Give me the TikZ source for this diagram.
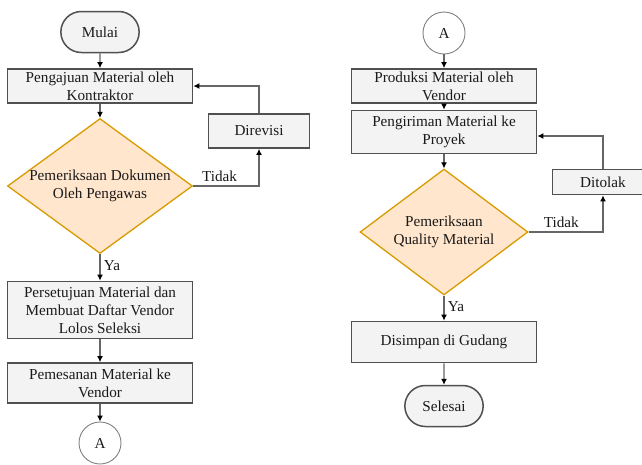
\documentclass[tikz,border=0pt]{standalone}
\usepackage{fontspec}
\setmainfont{Liberation Serif}
\usetikzlibrary{shapes.geometric, shapes.misc, arrows.meta}
\definecolor{boxfill}{HTML}{F3F3F3}
\definecolor{boxline}{HTML}{505050}
\definecolor{decfill}{HTML}{FFE6CC}
\definecolor{decline}{HTML}{D79B00}
\definecolor{wire}{HTML}{666666}
\definecolor{ink}{HTML}{1A1A1A}
\tikzset{
  ->,
  >={Latex[length=6pt,width=6pt,color=black]},
  every node/.style={text=ink, font=\fontsize{15.2}{18}\selectfont},
  process/.style={rectangle, draw=boxline, fill=boxfill, line width=1.8pt,
    minimum width=185pt, align=center, inner sep=0pt},
  terminal/.style={rounded rectangle, draw=boxline, fill=boxfill, line width=1.5pt,
    minimum width=85pt, minimum height=41pt},
  decision/.style={diamond, draw=decline, fill=decfill, line width=1.3pt,
    align=center, inner sep=-4pt},
  connector/.style={circle, draw=gray, fill=white, line width=0.9pt,
    minimum size=42pt, inner sep=0pt},
  flow/.style={draw=wire, line width=1.1pt},
}

\begin{document}
\begin{tikzpicture}[x=1pt, y=-1pt]
      \useasboundingbox (0,0) rectangle (642,464);

      % left column
      \node[terminal] (mulai) at (100,32) {Mulai};
      \node[process, minimum height=34pt, below of=mulai, node distance=54pt] (ajukan)
        {Pengajuan Material oleh\\Kontraktor};
      \node[decision, aspect=1.37, minimum width=185pt, minimum height=135pt,
        below of=ajukan, node distance=100pt] (cekdok)
        {Pemeriksaan Dokumen\\Oleh Pengawas};
      \node[process, minimum height=57pt, below of=cekdok, node distance=124pt] (setuju)
        {Persetujuan Material dan\\Membuat Daftar Vendor\\Lolos Seleksi};
      \node[process, minimum height=40pt, below of=setuju, node distance=73pt] (pesan)
        {Pemesanan Material ke\\Vendor};
      \node[connector, below of=pesan, node distance=60pt] (keluarA) {A};
      \node[process, minimum width=101pt, minimum height=34pt] (direvisi) at (259,131)
        {Direvisi};

      % right column
      \node[connector] (masukA) at (444,33) {A};
      \node[process, minimum height=34pt, below of=masukA, node distance=53pt] (produksi)
        {Produksi Material oleh\\Vendor};
      \node[process, minimum height=43pt, below of=produksi, node distance=46pt] (kirim)
        {Pengiriman Material ke\\Proyek};
      \node[decision, aspect=1.33, minimum width=168pt, minimum height=126pt,
        below of=kirim, node distance=100pt] (cekqc)
        {Pemeriksaan\\Quality Material};
      \node[process, minimum height=41pt, below of=cekqc, node distance=110pt] (simpan)
        {Disimpan di Gudang};
      \node[terminal, below of=simpan, node distance=64pt] (selesai) {Selesai};
      \node[process, minimum width=101pt, minimum height=25pt] (ditolak) at (603,182)
        {Ditolak};

      \draw[flow] (mulai) -- (ajukan);
      \draw[flow] (ajukan) -- (cekdok);
      \draw[flow] (cekdok) -- node[right, pos=0.45] {Ya} (setuju);
      \draw[flow] (setuju) -- (pesan);
      \draw[flow] (pesan) -- (keluarA);
      \draw[flow] (cekdok.east) -| node[above, pos=0.2] {Tidak} (direvisi.south);
      \draw[flow] (direvisi.north) |- (ajukan.east);

      \draw[flow] (masukA) -- (produksi);
      \draw[flow] (produksi) -- (kirim);
      \draw[flow] (kirim) -- (cekqc);
      \draw[flow] (cekqc) -- node[right, pos=0.45] {Ya} (simpan);
      \draw[flow] (simpan) -- (selesai);
      \draw[flow] (cekqc.east) -| node[above, pos=0.22] {Tidak} (ditolak.south);
      \draw[flow] (ditolak.north) |- ([yshift=-4pt]kirim.east);
\end{tikzpicture}
\end{document}
